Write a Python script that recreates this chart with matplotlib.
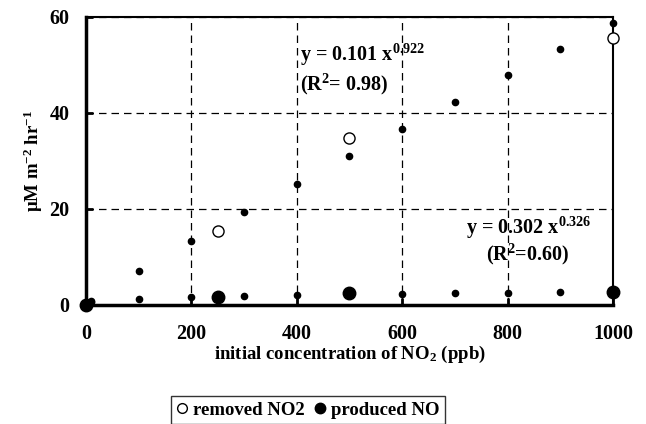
import matplotlib
matplotlib.use("Agg")
import matplotlib.pyplot as plt
from matplotlib.lines import Line2D

plt.rcParams['font.family'] = ['Liberation Serif', 'DejaVu Serif']
plt.rcParams['font.weight'] = 'bold'
plt.rcParams['mathtext.fontset'] = 'custom'
plt.rcParams['mathtext.rm'] = 'Liberation Serif:bold'
plt.rcParams['mathtext.bf'] = 'Liberation Serif:bold'
plt.rcParams['mathtext.it'] = 'Liberation Serif:bold'

# Data
fit_x = [10, 100, 200, 300, 400, 500, 600, 700, 800, 900, 1000]
fit_no2 = [0.8, 7.0, 13.3, 19.3, 25.2, 31.0, 36.7, 42.3, 47.9, 53.3, 58.8]
fit_no = [0.6, 1.3, 1.7, 1.9, 2.0, 2.2, 2.35, 2.4, 2.5, 2.65, 2.8]

meas_x = [0, 250, 500, 1000]
removed_no2 = [0.0, 15.4, 34.7, 55.7]
produced_no = [0.0, 1.6, 2.4, 2.7]

x_ticks = [0, 200, 400, 600, 800, 1000]
y_ticks = [0, 20, 40, 60]

fig = plt.figure(figsize=(6.46, 4.24), dpi=100)
ax = fig.add_axes([0.133, 0.281, 0.816, 0.679])

ax.plot(fit_x, fit_no2, 'o', color='black', ms=4.5, clip_on=False, zorder=3)
ax.plot(fit_x, fit_no, 'o', color='black', ms=4.5, clip_on=False, zorder=3)
ax.plot(meas_x, removed_no2, 'o', mfc='white', mec='black', mew=1.0, ms=8,
        clip_on=False, zorder=4)
ax.plot(meas_x, produced_no, 'o', color='black', ms=9, clip_on=False, zorder=5)

ax.set_xlim(0, 1000)
ax.set_ylim(0, 60)
ax.set_xticks(x_ticks)
ax.set_yticks(y_ticks)
ax.tick_params(axis='x', direction='in', length=5, width=2, pad=14, labelsize=14.5)
ax.tick_params(axis='y', direction='in', length=5, width=2, pad=12, labelsize=14.5)
for lab in ax.get_xticklabels() + ax.get_yticklabels():
    lab.set_fontweight('bold')

ax.grid(True, color='black', linestyle=(0, (6, 4)), linewidth=0.9)
ax.set_axisbelow(True)
for s in ['left', 'bottom']:
    ax.spines[s].set_linewidth(2.5)
for s in ['top', 'right']:
    ax.spines[s].set_linewidth(1.5)

ax.set_xlabel('initial concentration of NO$_2$ (ppb)', fontsize=13.5, fontweight='bold', labelpad=0)
ax.set_ylabel('μM m$^{-2}$ hr$^{-1}$', fontsize=13.5, fontweight='bold', labelpad=3)

ax.text(406, 52, 'y = 0.101 x$^{0.922}$', fontsize=14.5, fontweight='bold', va='center', ha='left')
ax.text(406, 46.0, '(R$^2$= 0.98)', fontsize=14.5, fontweight='bold', va='center', ha='left')
ax.text(721, 16, 'y = 0.302 x$^{0.326}$', fontsize=14.5, fontweight='bold', va='center', ha='left')
ax.text(759, 10.6, '(R$^2$=0.60)', fontsize=14.5, fontweight='bold', va='center', ha='left')

handles = [
    Line2D([], [], marker='o', ls='none', mfc='white', mec='black', mew=1.0, ms=7),
    Line2D([], [], marker='o', ls='none', color='black', ms=7.5),
]
leg = fig.legend(handles, ['removed NO2', 'produced NO'], loc='upper center',
                 bbox_to_anchor=(0.477, 1 - 396 / 424), ncol=2, frameon=True, fancybox=False,
                 edgecolor='black', prop={'weight': 'bold', 'size': 13.5},
                 handlelength=0.6, handletextpad=0.3, columnspacing=0.5,
                 borderpad=0.3, borderaxespad=0.0)
leg.get_frame().set_linewidth(1.0)

fig.savefig('out.png', dpi=100)
